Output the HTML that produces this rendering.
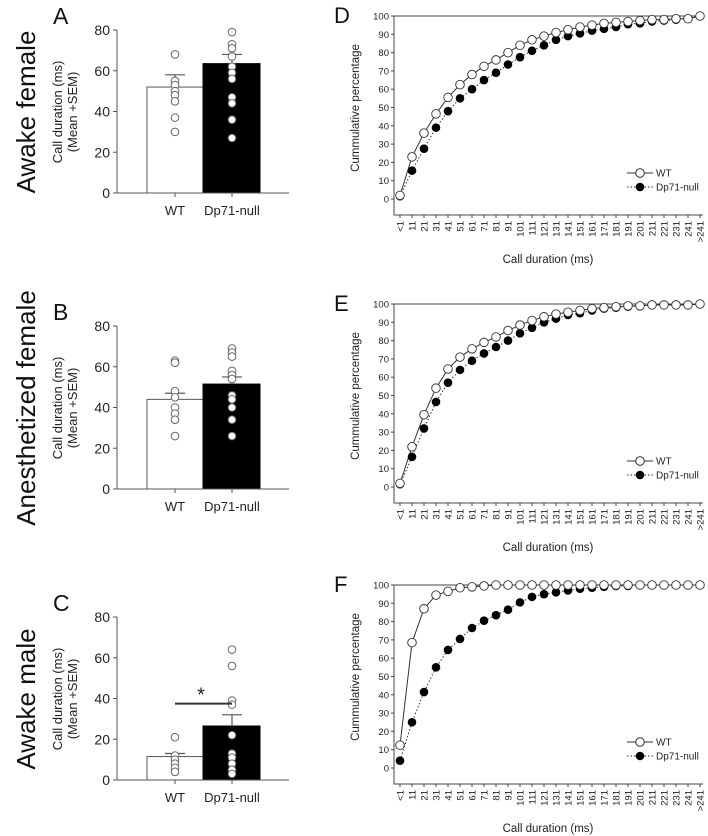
<!DOCTYPE html>
<html><head><meta charset="utf-8"><style>
html,body{margin:0;padding:0;background:#fff;}
svg{display:block;font-family:"Liberation Sans",Arial,sans-serif;}
</style></head><body>
<svg id="fig" width="708" height="836" viewBox="0 0 708 836"></svg>
<script>
// ---- Bar chart data (A, B, C) ----
const barGroups = ["WT", "Dp71-null"];
const barMeansA = [52, 63.5];
const barSemTopA = [58, 68];
const wtPointsA = [68, 55, 53, 50, 48, 45, 37, 30];
const koPointsA = [79, 73, 71, 67, 62, 59, 56, 47, 44, 36, 27];
const barMeansB = [44, 51.5];
const barSemTopB = [47, 55];
const wtPointsB = [63, 62, 48, 45, 40, 37, 34, 26];
const koPointsB = [69, 67, 65, 58, 56, 54, 46, 44, 40, 34, 26];
const barMeansC = [11.5, 26.5];
const barSemTopC = [13, 32];
const wtPointsC = [21, 12, 10, 8, 6, 4];
const koPointsC = [64, 56, 39, 37, 22, 13, 11, 8, 5, 3];
const barTicks = [0, 20, 40, 60, 80];
// ---- Cumulative data (D, E, F) ----
const durCats = ["<1","11","21","31","41","51","61","71","81","91","101","111","121","131","141","151","161","171","181","191","201","211","221","231","241",">241"];
const cumTicks = [0,10,20,30,40,50,60,70,80,90,100];
const wtD = [2,23,36,46.5,55.5,62.5,68,72.5,76,80,84,87,89,91,92.5,94,95,96,96.5,97,97.5,98,98,98.5,98.5,100];
const koD = [1.5,15.5,27.5,39,48,55,60,65,69,73.5,77.5,81,84,87,89,90.5,92,93,94,95.5,96,97,97.5,98,98.5,100];
const wtE = [2,22,39.5,54,64.5,71,75.5,79,82,85.5,88.5,91,93,94.5,95.5,96.5,97.5,98,98.5,99,99,99.5,99.5,99.5,99.5,100];
const koE = [1.5,16.5,32,46.5,57,64,69,73,76.5,80,84,87,90,92,94,95,96.5,97.5,98,98.5,99,99.5,99.5,99.5,99.5,100];
const wtF = [12.5,68.5,87,94.5,96.5,98.5,99,99.5,100,100,100,100,100,100,100,100,100,100,100,100,100,100,100,100,100,100];
const koF = [4,25,41.5,55,64.5,70.5,76.5,80.5,83.5,86.5,90.5,93.5,95,96,97,98,98.5,99,99.5,99.5,100,100,100,100,100,100];

const NS="http://www.w3.org/2000/svg";
const svg=document.getElementById('fig');
function mk(tag,attrs,parent,text){const e=document.createElementNS(NS,tag);for(const k in attrs)e.setAttribute(k,attrs[k]);if(text!==undefined)e.textContent=text;(parent||svg).appendChild(e);return e;}

function barPanel(off,letter,rowTitle,means,sems,wt,ko,sig){
  const g=mk('g',{});
  
  
  const y0=193+off, y80=30+off;
  const yv=v=>y0-(v/80)*(y0-y80);
  const xl=117, xr=289;
  const cx=[175,232], bx=[[147,203],[203,260]];
  const rt=mk('text',{x:0,y:0,'font-size':26,fill:'#111','text-anchor':'middle',transform:`translate(35,${112+off}) rotate(-90)`},g,rowTitle);
  
  const lt=mk('text',{x:53,y:24+off,'font-size':23,fill:'#111'},g,letter);
  
  const yt=mk('text',{x:0,y:0,'font-size':13,fill:'#222','text-anchor':'middle',transform:`translate(70,${112+off}) rotate(-90)`},g);
  
  mk('tspan',{x:0,dy:-8},yt,'Call duration (ms)');mk('tspan',{x:0,dy:15},yt,'(Mean +SEM)');
  means.forEach((m,i)=>{
    const r=mk('rect',{x:bx[i][0],y:yv(m),width:bx[i][1]-bx[i][0],height:y0-yv(m),fill:i?'#000':'#fff',stroke:i?'#000':'#555','stroke-width':1},g);
    
    const e=mk('path',{d:`M${cx[i]} ${yv(m)}V${yv(sems[i])}M${cx[i]-10} ${yv(sems[i])}H${cx[i]+10}`,stroke:'#555','stroke-width':1.2,fill:'none'},g);
    
  });
  [wt,ko].forEach((pts,i)=>pts.forEach(v=>{
    const c=mk('circle',{cx:cx[i],cy:yv(v),r:3.8,fill:'#fff',stroke:'#666','stroke-width':1},g);
    
  }));
  mk('path',{d:`M${xl} ${y80}V${y0}H${xr}`,stroke:'#555','stroke-width':1,fill:'none'},g);
  barTicks.forEach(t=>{
    mk('path',{d:`M${xl-4} ${yv(t)}H${xl}`,stroke:'#555'},g);
    const tl=mk('text',{x:xl-7,y:yv(t)+5,'font-size':14,fill:'#222','text-anchor':'end'},g,t);
    
  });
  barGroups.forEach((n,i)=>{
    mk('path',{d:`M${cx[i]} ${y0}V${y0+4}`,stroke:'#555'},g);
    const xl2=mk('text',{x:cx[i],y:y0+22,'font-size':13,fill:'#222','text-anchor':'middle'},g,n);
    
  });
  if(sig){
    const s=mk('path',{d:`M${cx[0]} ${yv(sig)}H${cx[1]}`,stroke:'#333','stroke-width':2},g);
    
    const st=mk('text',{x:201,y:yv(sig)-2,'font-size':20,fill:'#222','text-anchor':'middle'},g,'*');
    
  }
}

function cumPanel(off,letter,wt,ko){
  const g=mk('g',{});
  
  
  const y100=16+off, y0=199+off, yb=215+off, xl=394, xr=703;
  const yv=v=>y0-(v/100)*(y0-y100);
  const xv=i=>400+i*12;
  const lt=mk('text',{x:334,y:23+off,'font-size':22,fill:'#111'},g,letter);
  
  mk('path',{d:`M${xl} ${y100}V${yb}H${xr}M${xl} ${y100}H${xr}`,stroke:'#444','stroke-width':1,fill:'none'},g);
  cumTicks.forEach(t=>{
    mk('path',{d:`M${xl-3} ${yv(t)}H${xl}`,stroke:'#444'},g);
    const tl=mk('text',{x:xl-5,y:yv(t)+3.5,'font-size':9.5,fill:'#222','text-anchor':'end'},g,t);
    
  });
  durCats.forEach((c,i)=>{
    mk('path',{d:`M${xv(i)} ${yb}V${yb+3}`,stroke:'#444'},g);
    const tl=mk('text',{x:0,y:0,'font-size':9.5,fill:'#222','text-anchor':'end',transform:`translate(${xv(i)+3.5},${yb+6}) rotate(-90)`},g,c);
    
  });
  const xt=mk('text',{x:548,y:yb+48,'font-size':11.5,fill:'#222','text-anchor':'middle'},g,'Call duration (ms)');
  
  const yt=mk('text',{x:0,y:0,'font-size':11.5,fill:'#222','text-anchor':'middle',transform:`translate(359,${108+off}) rotate(-90)`},g,'Cummulative percentage');
  
  const lw=mk('polyline',{points:wt.map((v,i)=>xv(i)+','+yv(v)).join(' '),fill:'none',stroke:'#333','stroke-width':1},g);
  
  const lk=mk('polyline',{points:ko.map((v,i)=>xv(i)+','+yv(v)).join(' '),fill:'none',stroke:'#333','stroke-width':1,'stroke-dasharray':'1.5,2'},g);
  
  ko.forEach((v,i)=>{const c=mk('circle',{cx:xv(i),cy:yv(v),r:4.3,fill:'#000'},g);
    });
  wt.forEach((v,i)=>{const c=mk('circle',{cx:xv(i),cy:yv(v),r:4.3,fill:'#fff',stroke:'#333','stroke-width':0.9},g);
    });
  const ly=173+off;
  const l1=mk('g',{},g);
  mk('path',{d:`M627 ${ly}H653`,stroke:'#333'},l1);
  mk('circle',{cx:640,cy:ly,r:4.3,fill:'#fff',stroke:'#333'},l1);
  mk('text',{x:656,y:ly+3.5,'font-size':10,fill:'#222'},l1,'WT');
  const l2=mk('g',{},g);
  mk('path',{d:`M627 ${ly+14}H653`,stroke:'#333','stroke-dasharray':'1.5,2'},l2);
  mk('circle',{cx:640,cy:ly+14,r:4.3,fill:'#000'},l2);
  mk('text',{x:656,y:ly+17.5,'font-size':10,fill:'#222'},l2,'Dp71-null');
}

barPanel(0,'A','Awake female',barMeansA,barSemTopA,wtPointsA,koPointsA,null);
barPanel(296,'B','Anesthetized female',barMeansB,barSemTopB,wtPointsB,koPointsB,null);
barPanel(587,'C','Awake male',barMeansC,barSemTopC,wtPointsC,koPointsC,37.5);
cumPanel(0,'D',wtD,koD);
cumPanel(288,'E',wtE,koE);
cumPanel(569,'F',wtF,koF);
</script>
</body></html>
